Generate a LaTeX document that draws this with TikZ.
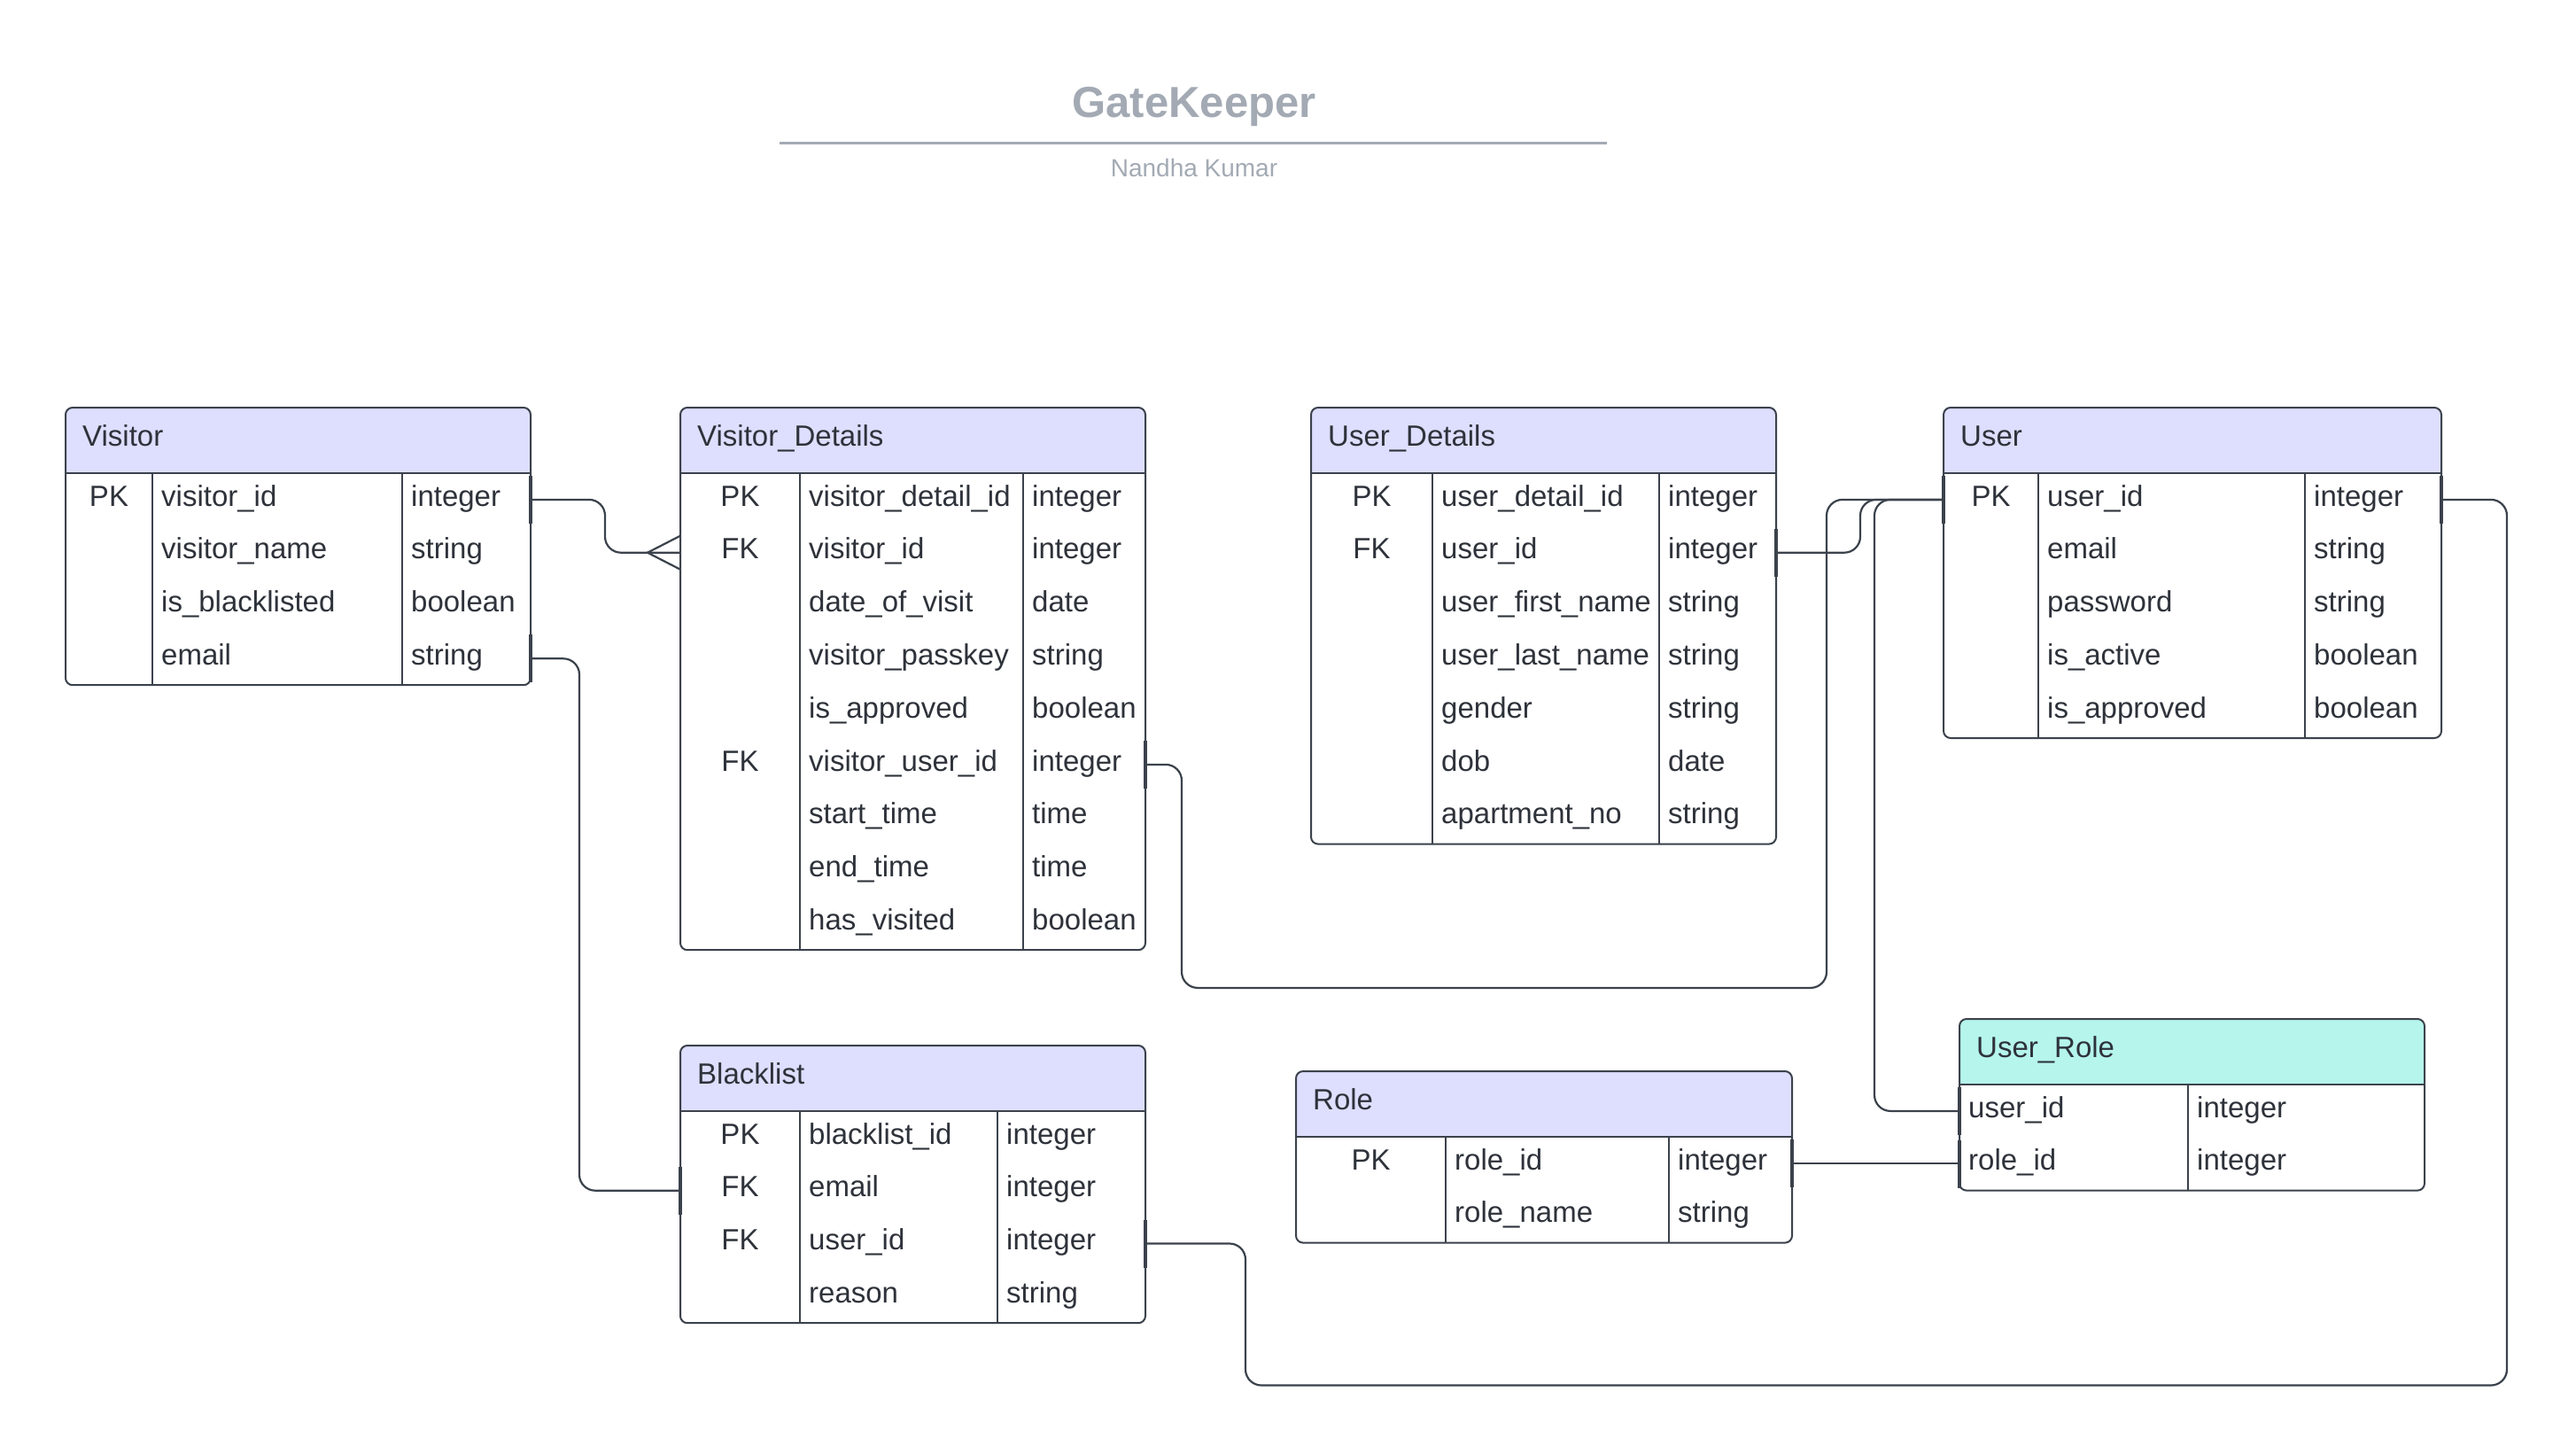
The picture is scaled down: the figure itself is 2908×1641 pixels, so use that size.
\documentclass[tikz,border=0pt]{standalone}
\usepackage{fontspec}
\setmainfont{Liberation Sans}
\definecolor{txt}{HTML}{2E323A}
\definecolor{ln}{HTML}{3B424C}
\definecolor{hdrfill}{HTML}{DEDEFF}
\definecolor{tealfill}{HTML}{B5F5EC}
\definecolor{titlegray}{HTML}{A3AAB4}
\tikzset{
  border/.style={draw=ln, line width=2pt},
  cell/.style={anchor=base west, inner sep=0pt, text=txt, font=\fontsize{33}{40}\selectfont},
  keycell/.style={anchor=base, inner sep=0pt, text=txt, font=\fontsize{33}{40}\selectfont},
  conn/.style={draw=ln, line width=2.2pt, rounded corners=18pt},
  onetick/.style={draw=ln, line width=4.5pt},
}
\newcommand\ertable[9]{%
  \foreach \k/\n/\t [count=\i] in {#9}{\xdef\ernrows{\i}}%
  \pgfmathsetmacro\erbot{#6+74+\ernrows*59.8}%
  \pgfmathsetmacro\erhb{#6+74}%
  \begin{scope}
    \clip[rounded corners=8pt] (#2,#6) rectangle (#5,\erbot);
    \fill[white] (#2,#6) rectangle (#5,\erbot);
    \fill[#7] (#2,#6) rectangle (#5,\erhb);
  \end{scope}
  \draw[border, rounded corners=8pt] (#2,#6) rectangle (#5,\erbot);
  \draw[border] (#2,\erhb) -- (#5,\erhb);
  \ifnum#3>0 \draw[border] (#3,\erhb) -- (#3,\erbot);\fi
  \draw[border] (#4,\erhb) -- (#4,\erbot);
  \node[cell] (#1-title) at (#2+19,#6+43) {#8};
  \foreach \k/\n/\t [count=\i] in {#9}{%
    \pgfmathsetmacro\rt{\erhb+(\i-1)*59.8}%
    \pgfmathsetmacro\rc{\rt+29.9}%
    \pgfmathsetmacro\rb{\rt+37}%
    \coordinate (#1-\i-w) at (#2,\rc);
    \coordinate (#1-\i-e) at (#5,\rc);
    \ifnum#3>0
      \node[keycell] (#1-k\i) at ({(#2+#3)/2},\rb) {\k};
      \node[cell] (#1-n\i) at (#3+10,\rb) {\n};
    \else
      \node[cell] (#1-n\i) at (#2+10,\rb) {\n};
    \fi
    \node[cell] (#1-t\i) at (#4+10,\rb) {\t};
  }%
}
\begin{document}
\begin{tikzpicture}[x=1pt, y=-1pt]
\useasboundingbox (0,0) rectangle (2908,1641);
\fill[white] (0,0) rectangle (2908,1641);

% title
\node[anchor=base, inner sep=0pt, text=titlegray, font=\bfseries\fontsize{49}{56}\selectfont] (title) at (1348,132) {GateKeeper};
\draw[titlegray, line width=3pt] (880,161) coordinate (tl) -- (1814,161) coordinate (tr);
\node[anchor=base, inner sep=0pt, text=titlegray, font=\fontsize{28}{34}\selectfont] (author) at (1348,199) {Nandha Kumar};

% tables
\ertable{V}{74}{172}{454}{599}{460}{hdrfill}{Visitor}{PK/visitor\_id/integer, /visitor\_name/string, /is\_blacklisted/boolean, /email/string}
\ertable{VD}{768}{903}{1155}{1293}{460}{hdrfill}{Visitor\_Details}{PK/visitor\_detail\_id/integer, FK/visitor\_id/integer, /date\_of\_visit/date, /visitor\_passkey/string, /is\_approved/boolean, FK/visitor\_user\_id/integer, /start\_time/time, /end\_time/time, /has\_visited/boolean}
\ertable{UD}{1480}{1617}{1873}{2005}{460}{hdrfill}{User\_Details}{PK/user\_detail\_id/integer, FK/user\_id/integer, /user\_first\_name/string, /user\_last\_name/string, /gender/string, /dob/date, /apartment\_no/string}
\ertable{U}{2194}{2301}{2602}{2756}{460}{hdrfill}{User}{PK/user\_id/integer, /email/string, /password/string, /is\_active/boolean, /is\_approved/boolean}
\ertable{BL}{768}{903}{1126}{1293}{1180}{hdrfill}{Blacklist}{PK/blacklist\_id/integer, FK/email/integer, FK/user\_id/integer, /reason/string}
\ertable{R}{1463}{1632}{1884}{2023}{1209}{hdrfill}{Role}{PK/role\_id/integer, /role\_name/string}
\ertable{UR}{2212}{-1}{2470}{2737}{1150}{tealfill}{User\_Role}{/user\_id/integer, /role\_id/integer}

% connectors
\draw[conn] (V-1-e) -- ++(84,0) |- (VD-2-w);
\draw[conn] (V-4-e) -- ++(55,0) |- (BL-2-w);
\draw[conn] (VD-6-e) -- ++(41,0) -- ++(0,252) -- ++(728,0) |- (U-1-w);
\draw[conn] (UD-2-e) -- ++(95,0) |- (U-1-w);
\draw[conn] (UR-1-w) -- ++(-96,0) |- (U-1-w);
\draw[conn] (R-1-e) -- (R-1-e -| UR-2-w);
\draw[conn] (BL-3-e) -- ++(113,0) -- ++(0,160) -- ++(1424,0) |- (U-1-e);

% crow's foot
\draw[draw=ln, line width=2.2pt] ([yshift=19pt]VD-2-w) -- ([xshift=-37pt]VD-2-w) -- ([yshift=-19pt]VD-2-w);

% one ticks
\foreach \c in {V-1-e, V-4-e, VD-6-e, U-1-w, UD-2-e, UR-1-w, UR-2-w, R-1-e, BL-2-w, BL-3-e, U-1-e}{
  \draw[onetick] ([yshift=27pt]\c) -- ([yshift=-27pt]\c);
}
\end{tikzpicture}
\end{document}
